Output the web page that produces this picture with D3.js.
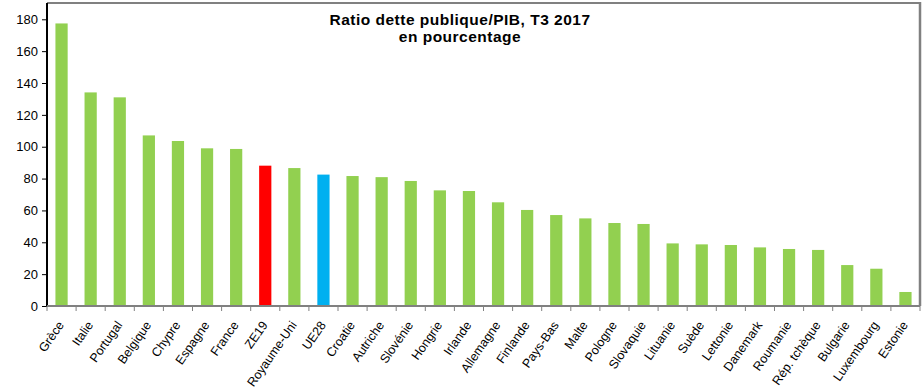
<!DOCTYPE html>
<html><head><meta charset="utf-8">
<script src="https://cdn.jsdelivr.net/npm/d3@7"></script>
<style>body{margin:0;background:#fff}svg{display:block}text{font-family:"Liberation Sans",Arial,sans-serif}</style>
</head><body><svg id="c" width="924" height="391"></svg>
<script>
const categories = ["Grèce","Italie","Portugal","Belgique","Chypre","Espagne","France","ZE19","Royaume-Uni","UE28","Croatie","Autriche","Slovénie","Hongrie","Irlande","Allemagne","Finlande","Pays-Bas","Malte","Pologne","Slovaquie","Lituanie","Suède","Lettonie","Danemark","Roumanie","Rép. tchèque","Bulgarie","Luxembourg","Estonie"];
const values = [177.4,134.1,131.0,107.1,103.6,99.0,98.6,88.1,86.6,82.5,81.6,80.9,78.5,72.6,72.2,65.1,60.3,57.1,55.0,52.1,51.5,39.3,38.7,38.3,36.8,35.8,35.2,25.7,23.4,8.8];
const highlights = {"ZE19":"#FF0000","UE28":"#00B0F0"};
const yTicks = [0,20,40,60,80,100,120,140,160,180];
const titleLines = ["Ratio dette publique/PIB, T3 2017","en pourcentage"];

const svg = d3.select("#c");
const L=47, R=920, T=3, B=306;
const x = d3.scaleBand().domain(categories).range([L,R]).paddingInner(0.58).paddingOuter(0.29);
const y = d3.scaleLinear().domain([0,180]).range([B, 19.3]);

// frame top/right
svg.append("line").attr("x1",L).attr("x2",R).attr("y1",T).attr("y2",T).attr("stroke","#808080").attr("stroke-width",2);
svg.append("line").attr("x1",R).attr("x2",R).attr("y1",T-1).attr("y2",B).attr("stroke","#808080").attr("stroke-width",2.5);

svg.append("g").selectAll("rect").data(categories).join("rect")
  .attr("x",d=>x(d)).attr("width",x.bandwidth())
  .attr("y",(d,i)=>y(values[i])).attr("height",(d,i)=>B-y(values[i]))
  .attr("fill",d=>highlights[d]||"#92D050");

// y axis
const ya = svg.append("g").attr("transform",`translate(${L},0)`)
  .call(d3.axisLeft(y).tickValues(yTicks).tickSize(5).tickPadding(4).tickFormat(d3.format("d")));
ya.select(".domain").attr("stroke","#000").attr("stroke-width",2).attr("d",`M0,${T}V${B}`);
ya.selectAll(".tick line").attr("stroke","#000");
ya.selectAll("text").attr("font-size",13).attr("fill","#000");

// x axis
const bounds = d3.range(categories.length+1).map(i=>L+i*(R-L)/categories.length);
const xa = svg.append("g");
xa.append("line").attr("x1",L).attr("x2",R).attr("y1",B).attr("y2",B).attr("stroke","#808080").attr("stroke-width",2);
xa.selectAll("line.t").data(bounds).join("line").attr("class","t")
  .attr("x1",d=>d).attr("x2",d=>d).attr("y1",B).attr("y2",B+5).attr("stroke","#808080").attr("stroke-width",1);
xa.selectAll("text").data(categories).join("text")
  .attr("transform",d=>`translate(${x(d)+x.bandwidth()/2+3},${B+19}) rotate(-55)`)
  .attr("text-anchor","end").attr("font-size",12.5).attr("fill","#000").text(d=>d);

// title
svg.append("g").selectAll("text").data(titleLines).join("text")
  .attr("x",460).attr("y",(d,i)=>25+i*17).attr("text-anchor","middle")
  .attr("font-size",15.5).attr("letter-spacing",0.5).attr("font-weight","bold").attr("fill","#000").text(d=>d);
</script></body></html>
